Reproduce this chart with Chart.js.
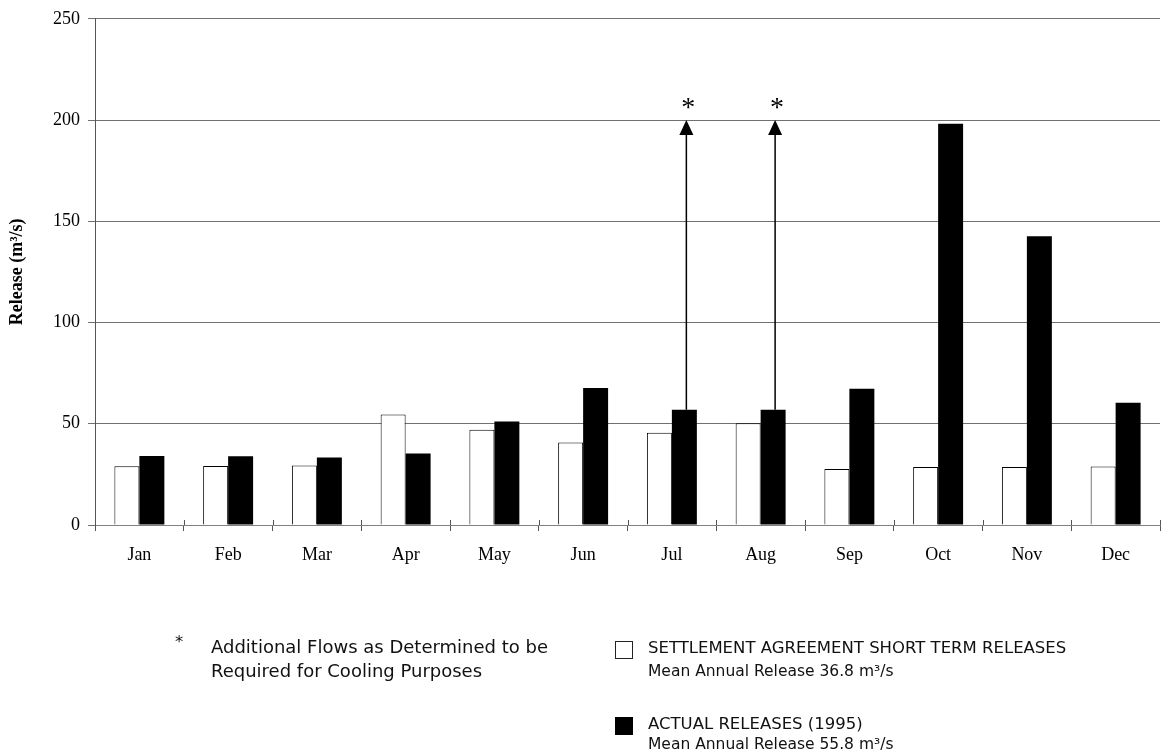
<!DOCTYPE html>
<html lang="en">
<head>
  <meta charset="UTF-8">
  <title>Monthly Releases 1995</title>
  <script src="https://cdn.jsdelivr.net/npm/chart.js"></script>
  <style>
    body {
      margin: 0;
      background: #fff;
    }
    .wrap {
      position: relative;
      width: 1165px;
      height: 756px;
    }
    .note {
      position: absolute;
      font-family: 'DejaVu Sans', sans-serif;
      color: #111;
      font-size: 16.5px;
      line-height: 20px;
      white-space: nowrap;
    }
    .note.sub {
      font-size: 15.5px;
    }
    .note.big {
      font-size: 18px;
      line-height: 24px;
    }
    .box {
      position: absolute;
      width: 18px;
      height: 18px;
      border: 1px solid #222;
      box-sizing: border-box;
    }
  </style>
</head>
<body>
  <div class="wrap">
    <canvas id="releaseChart"></canvas>

    <div class="note" style="left:175px; top:632px;">*</div>
    <div class="note big" style="left:211px; top:635px;">Additional Flows as Determined to be<br>Required for Cooling Purposes</div>

    <div class="box" style="left:615px; top:641px; background:#fff;"></div>
    <div class="note" style="left:648px; top:637.5px;">SETTLEMENT AGREEMENT SHORT TERM RELEASES</div>
    <div class="note sub" style="left:648px; top:660.5px;">Mean Annual Release 36.8 m³/s</div>

    <div class="box" style="left:615px; top:717px; background:#000; border-color:#000;"></div>
    <div class="note" style="left:648px; top:714px;">ACTUAL RELEASES (1995)</div>
    <div class="note sub" style="left:648px; top:734px;">Mean Annual Release 55.8 m³/s</div>
  </div>

  <script>
    const months = ['Jan', 'Feb', 'Mar', 'Apr', 'May', 'Jun', 'Jul', 'Aug', 'Sep', 'Oct', 'Nov', 'Dec'];
    const settlement = [29.0, 29.2, 29.4, 54.6, 47.0, 40.8, 45.6, 50.3, 27.6, 28.6, 28.7, 28.9];
    const actual = [34.1, 34.0, 33.3, 35.3, 51.1, 67.6, 56.9, 56.9, 67.3, 198.2, 142.6, 60.4];
    const yTicks = [0, 50, 100, 150, 200, 250];
    const coolingMonths = ['Jul', 'Aug'];
    const coolingTo = 200;

    // arrows for the extra cooling flows, from bar top up to 200
    const coolingArrows = {
      id: 'coolingArrows',
      afterDatasetsDraw(chart) {
        const ctx = chart.ctx;
        const y = chart.scales.y;
        const meta = chart.getDatasetMeta(1);
        ctx.save();
        ctx.strokeStyle = '#000';
        ctx.fillStyle = '#000';
        ctx.lineWidth = 1.5;
        coolingMonths.forEach(m => {
          const i = months.indexOf(m);
          const x = meta.data[i].x + 2;
          const top = y.getPixelForValue(coolingTo);
          ctx.beginPath();
          ctx.moveTo(x, y.getPixelForValue(actual[i]));
          ctx.lineTo(x, top + 12);
          ctx.stroke();
          ctx.beginPath();
          ctx.moveTo(x, top);
          ctx.lineTo(x - 7, top + 15);
          ctx.lineTo(x + 7, top + 15);
          ctx.closePath();
          ctx.fill();
          ctx.font = '28px "Liberation Serif", serif';
          ctx.textAlign = 'center';
          ctx.textBaseline = 'alphabetic';
          ctx.fillText('*', x + 2, top - 4);
        });
        ctx.restore();
      }
    };

    // small marks on the inner side of the x axis ticks
    const innerTicks = {
      id: 'innerTicks',
      afterDraw(chart) {
        const ctx = chart.ctx;
        const x = chart.scales.x;
        const base = chart.chartArea.bottom;
        const step = x.width / months.length;
        ctx.save();
        ctx.strokeStyle = '#555';
        ctx.lineWidth = 1;
        for (let i = 0; i <= months.length; i++) {
          const px = Math.round(x.left + i * step) + 0.5;
          ctx.beginPath();
          ctx.moveTo(px, base - 5);
          ctx.lineTo(px, base);
          ctx.stroke();
        }
        ctx.restore();
      }
    };

    new Chart(document.getElementById('releaseChart'), {
      type: 'bar',
      data: {
        labels: months,
        datasets: [{
          label: 'SETTLEMENT AGREEMENT SHORT TERM RELEASES',
          data: settlement,
          backgroundColor: '#fff',
          borderColor: '#000',
          borderWidth: 1,
          categoryPercentage: 0.563,
          barPercentage: 1.0
        }, {
          label: 'ACTUAL RELEASES (1995)',
          data: actual,
          backgroundColor: '#000',
          borderColor: '#000',
          borderWidth: 0,
          categoryPercentage: 0.563,
          barPercentage: 1.0
        }]
      },
      options: {
        responsive: true,
        maintainAspectRatio: false,
        animation: false,
        layout: { padding: { left: 0, right: 5, top: 16, bottom: 171 } },
        plugins: {
          legend: { display: false },
          tooltip: { enabled: false }
        },
        scales: {
          x: {
            afterFit: s => { s.height = 60; },
            grid: {
              offset: true,
              drawOnChartArea: false,
              color: '#555',
              tickLength: 6
            },
            border: { color: '#808080' },
            ticks: {
              padding: 13,
              color: '#000',
              font: { family: '"Liberation Serif", serif', size: 18 }
            }
          },
          y: {
            min: 0,
            max: 250,
            afterFit: s => { s.width = 95; },
            afterBuildTicks: s => { s.ticks = yTicks.map(v => ({ value: v })); },
            grid: { color: '#707070', tickLength: 7 },
            border: { color: '#555' },
            ticks: {
              padding: 8,
              color: '#000',
              font: { family: '"Liberation Serif", serif', size: 18 }
            },
            title: {
              display: true,
              text: 'Release (m³/s)',
              color: '#000',
              padding: { top: 7, bottom: 0 },
              font: { family: '"Liberation Serif", serif', size: 18, weight: 'bold' }
            }
          }
        }
      },
      plugins: [coolingArrows, innerTicks]
    });
  </script>
</body>
</html>
